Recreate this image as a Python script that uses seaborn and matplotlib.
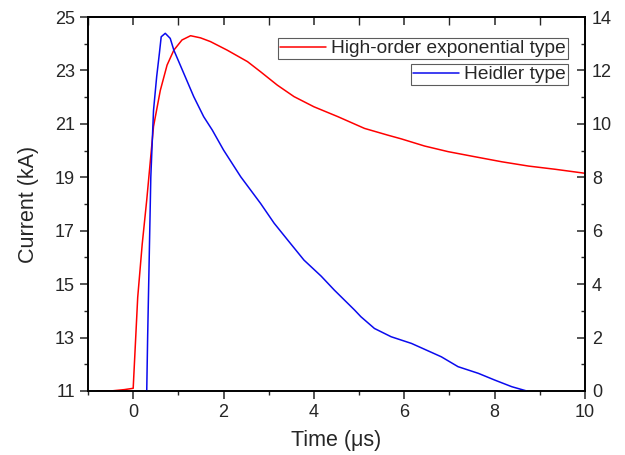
import matplotlib
matplotlib.use("Agg")
import matplotlib.pyplot as plt
import seaborn as sns
import pandas as pd
from matplotlib.ticker import MultipleLocator, FixedLocator

# Data
red_t = [-0.8, -0.5, -0.2, 0.0, 0.1, 0.2, 0.3, 0.45, 0.6, 0.75, 0.9, 1.08, 1.27,
         1.49, 1.71, 2.08, 2.53, 2.82, 3.19, 3.56, 4.0, 4.53, 5.12, 5.63,
         5.93, 6.45, 6.97, 7.56, 8.16, 8.75, 9.34, 10.0]
red_i = [11.0, 11.0, 11.05, 11.1, 14.5, 16.5, 18.15, 20.9, 22.25, 23.2, 23.76,
         24.14, 24.3, 24.22, 24.08, 23.76, 23.33, 22.95, 22.45, 22.02, 21.64,
         21.27, 20.83, 20.58, 20.44, 20.17, 19.96, 19.77, 19.58, 19.42,
         19.30, 19.15]

blue_t = [0.30, 0.32, 0.39, 0.45, 0.52, 0.58, 0.62, 0.71, 0.82, 0.9, 1.12, 1.34,
          1.56, 1.75, 2.0, 2.38, 2.82, 3.12, 3.42, 3.78, 4.16, 4.45,
          4.9, 5.04, 5.34, 5.71, 6.16, 6.82, 7.19, 7.64, 8.0, 8.38, 8.71]
blue_i = [0.0, 2.0, 8.0, 10.5, 11.77, 12.64, 13.26, 13.39, 13.2, 12.76, 11.89,
          11.02, 10.27, 9.77, 9.02, 8.02, 7.02, 6.28, 5.65, 4.9, 4.3, 3.78,
          3.03, 2.78, 2.34, 2.03, 1.78, 1.28, 0.91, 0.66, 0.41, 0.16, 0.0]

x_ticks = [0, 2, 4, 6, 8, 10]
left_ticks = [11, 13, 15, 17, 19, 21, 23, 25]
right_ticks = [0, 2, 4, 6, 8, 10, 12, 14]

red_label = "High-order exponential type"
blue_label = "Heidler type"

sns.set_style("ticks")
plt.rcParams['font.family'] = ['Liberation Sans', 'DejaVu Sans']

fig = plt.figure(figsize=(6.25, 4.55), dpi=100)
ax = fig.add_axes([0.1408, 0.1407, 0.7952, 0.8219])
ax2 = ax.twinx()

df_r = pd.DataFrame({"t": red_t, "i": red_i})
df_b = pd.DataFrame({"t": blue_t, "i": blue_i})

sns.lineplot(data=df_r, x="t", y="i", ax=ax, color="#ff0000", lw=1.1,
             label=red_label, sort=False)
sns.lineplot(data=df_b, x="t", y="i", ax=ax2, color="#0a0aee", lw=1.1,
             label=blue_label, sort=False)

ax.set_xlim(-1, 10)
ax.set_ylim(11, 25)
ax2.set_ylim(0, 14)

ax.xaxis.set_major_locator(FixedLocator(x_ticks))
ax.xaxis.set_minor_locator(MultipleLocator(1))
ax.yaxis.set_major_locator(FixedLocator(left_ticks))
ax.yaxis.set_minor_locator(MultipleLocator(1))
ax2.yaxis.set_major_locator(FixedLocator(right_ticks))
ax2.yaxis.set_minor_locator(MultipleLocator(1))

ax.tick_params(axis='x', which='major', direction='out', length=6, width=1.1,
               labelsize=13, top=False)
ax.tick_params(axis='x', which='minor', direction='out', length=3, width=1.0, top=False)
ax.tick_params(axis='y', which='major', direction='out', length=6, width=1.1,
               labelsize=13)
ax.tick_params(axis='y', which='minor', direction='out', length=3, width=1.0)
ax2.tick_params(axis='y', which='major', direction='in', length=6, width=1.1,
                labelsize=13, pad=5)
ax2.tick_params(axis='y', which='minor', direction='in', length=3, width=1.0)

# top axis: ticks pointing inward, no labels
top = ax.secondary_xaxis('top')
top.xaxis.set_major_locator(FixedLocator(x_ticks))
top.xaxis.set_minor_locator(MultipleLocator(1))
top.tick_params(axis='x', which='major', direction='in', length=6, width=1.1,
                labeltop=False)
top.tick_params(axis='x', which='minor', direction='in', length=6, width=1.0)
top.spines['top'].set_linewidth(1.2)

for a in (ax, ax2):
    for s in a.spines.values():
        s.set_linewidth(1.2)
        s.set_color('black')

ax.set_xlabel("Time (μs)", fontsize=15.5, labelpad=6)
ax.set_ylabel("Current (kA)", fontsize=15.5, labelpad=11)
ax2.set_ylabel("")

leg1 = ax.legend(loc='upper right', bbox_to_anchor=(0.966, 0.944),
                 borderaxespad=0, fontsize=13.8, frameon=True, fancybox=False,
                 edgecolor='#333333', handlelength=2.4, handletextpad=0.3,
                 borderpad=0.1)
leg1.get_frame().set_linewidth(0.8)
leg2 = ax2.legend(loc='upper right', bbox_to_anchor=(0.966, 0.874),
                  borderaxespad=0, fontsize=13.8, frameon=True, fancybox=False,
                  edgecolor='#333333', handlelength=2.4, handletextpad=0.3,
                  borderpad=0.1)
leg2.get_frame().set_linewidth(0.8)

fig.savefig("out.png", dpi=100)
